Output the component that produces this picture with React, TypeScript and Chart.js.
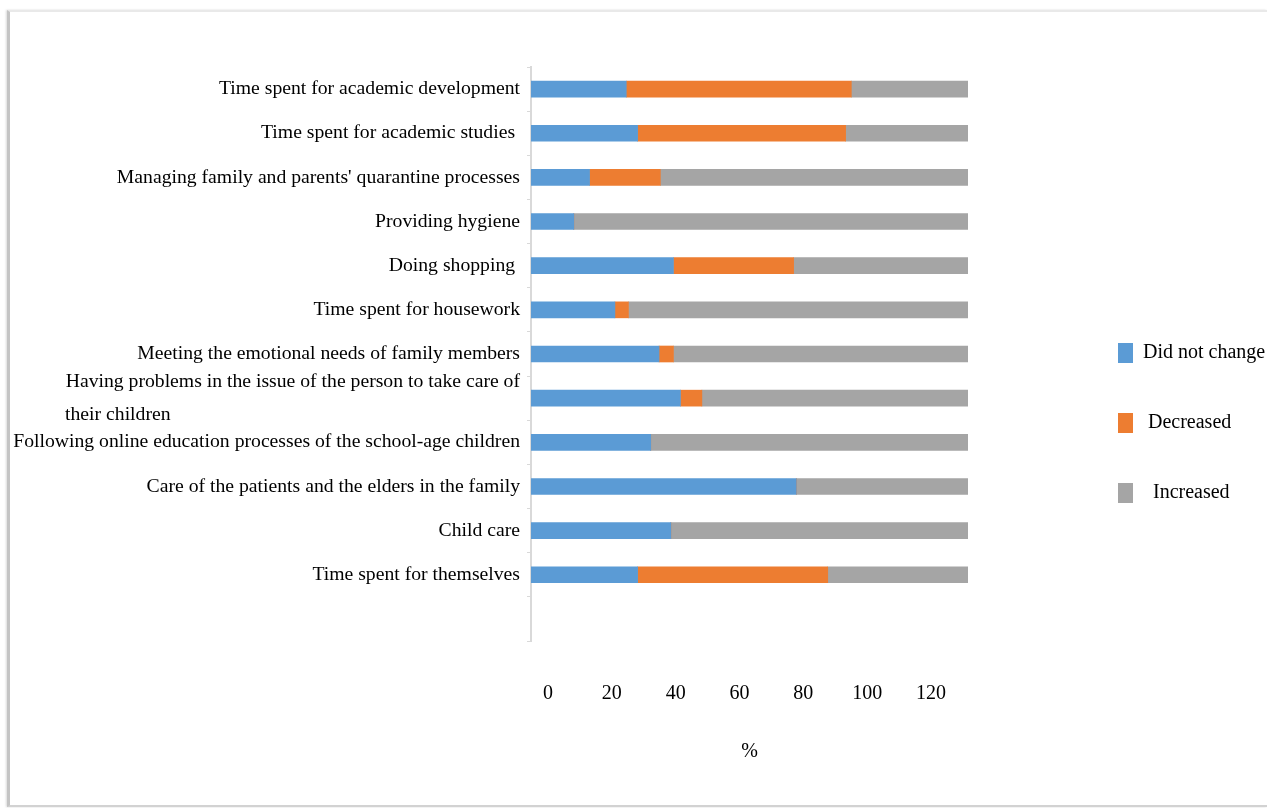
import React, { useEffect, useRef } from 'react';
import { Chart, registerables } from 'chart.js';

Chart.register(...registerables);

// ---- Data (top to bottom, last category is the empty slot at the bottom) ----
const categories: (string | string[])[] = [
  'Time spent for academic development',
  'Time spent for academic studies ',
  "Managing family and parents' quarantine processes",
  'Providing hygiene',
  'Doing shopping ',
  'Time spent for housework',
  'Meeting the emotional needs of family members',
  ['Having problems in the issue of the person to take care of', 'their children' + ' '.repeat(71)],
  'Following online education processes of the school-age children',
  'Care of the patients and the elders in the family',
  'Child care',
  'Time spent for themselves',
  '',
];

const didNotChange = [21.8, 24.4, 13.4, 9.8, 32.6, 19.2, 29.3, 34.2, 27.4, 60.7, 32.0, 24.4, null];
const decreased = [51.5, 47.6, 16.2, 0, 27.5, 3.1, 3.3, 4.9, 0, 0, 0, 43.5, null];
const increased = [26.7, 28.0, 70.4, 90.2, 39.9, 77.7, 67.4, 60.9, 72.6, 39.3, 68.0, 32.1, null];

const seriesLabels = ['Did not change', ' Decreased', '  Increased'];
const seriesColors = ['#5B9BD5', '#ED7D31', '#A5A5A5'];

// displayed axis tick labels 0..120 step 20 (as in the reference's axis)
const axisTickStep = 20;
const axisLabelMin = -5.33;
const axisLabelMax = 131.6;
const axisTitle = '%';

const FONT = 'Liberation Serif';

export default function App() {
  const ref = useRef<HTMLCanvasElement>(null);

  useEffect(() => {
    if (!ref.current) return;
    const chart = new Chart(ref.current, {
      type: 'bar',
      data: {
        labels: categories,
        datasets: [
          { label: seriesLabels[0], data: didNotChange, backgroundColor: seriesColors[0], xAxisID: 'x', yAxisID: 'y' },
          { label: seriesLabels[1], data: decreased, backgroundColor: seriesColors[1], xAxisID: 'x', yAxisID: 'y' },
          { label: seriesLabels[2], data: increased, backgroundColor: seriesColors[2], xAxisID: 'x', yAxisID: 'y' },
        ] as any,
      },
      options: {
        indexAxis: 'y',
        responsive: false,
        animation: false,
        events: [],
        datasets: { bar: { barThickness: 16 } } as any,
        layout: { padding: { top: 29, bottom: 0, left: 0, right: 0 } },
        plugins: {
          tooltip: { enabled: false },
          legend: {
            position: 'right',
            align: 'center',
            maxWidth: 199,
            labels: {
              boxWidth: 15,
              boxHeight: 20,
              padding: 50,
              color: '#000',
              font: { family: FONT, size: 20 },
            },
          },
        },
        scales: {
          x: {
            type: 'linear',
            position: 'top',
            stacked: true,
            min: 0,
            max: 100,
            ticks: { display: false },
            grid: { display: false },
            border: { display: false },
            afterFit: (s: any) => { s.height = 26; },
          },
          x2: {
            type: 'linear',
            position: 'bottom',
            min: axisLabelMin,
            max: axisLabelMax,
            ticks: {
              stepSize: axisTickStep,
              includeBounds: false,
              padding: 33,
              color: '#000',
              font: { family: FONT, size: 20 },
            },
            grid: { display: false },
            border: { display: false },
            title: {
              display: true,
              text: axisTitle,
              color: '#000',
              font: { family: FONT, size: 20 },
              padding: { top: 0, bottom: 41 },
            },
            afterFit: (s: any) => { s.height = 164; },
          },
          y: {
            type: 'category',
            stacked: true,
            grid: {
              display: true,
              drawOnChartArea: false,
              drawTicks: true,
              tickLength: 4,
              color: '#d9d9d9',
              offset: true,
            },
            border: { display: true, color: '#d9d9d9', width: 2 },
            ticks: {
              padding: 7,
              color: '#000',
              autoSkip: false,
              font: { family: FONT, size: 19.7, lineHeight: 1.67 },
            },
            afterFit: (s: any) => { s.width = 521; },
          },
          yRight: {
            type: 'linear',
            position: 'right',
            display: true,
            ticks: { display: false },
            grid: { display: false },
            border: { display: false },
            afterFit: (s: any) => { s.width = 100; },
          },
        },
      } as any,
    });
    return () => chart.destroy();
  }, []);

  return (
    <div
      style={{
        position: 'absolute',
        left: 7,
        top: 10,
        width: 1260,
        height: 797,
        boxSizing: 'border-box',
        background: '#fff',
        borderTop: '2px solid #e9e9e9',
        borderLeft: '3px solid #c4c4c4',
        borderBottom: '2px solid #d2d2d2',
        boxShadow: '-1px 0 2px rgba(0,0,0,0.15)',
      }}
    >
      <canvas ref={ref} width={1257} height={793} style={{ display: 'block', width: 1257, height: 793 }} />
    </div>
  );
}
